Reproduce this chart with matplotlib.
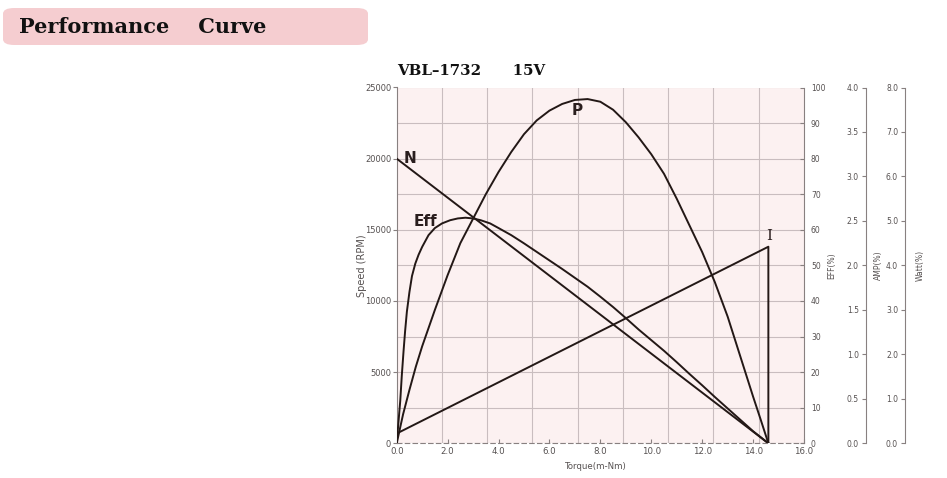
import numpy as np
import matplotlib.pyplot as plt
from matplotlib.patches import FancyBboxPatch

# values
torque_n = [0.0, 14.6]
speed_n = [20000, 0]

torque_eff = [0.0, 0.07, 0.14, 0.2, 0.27, 0.33, 0.4, 0.5, 0.6, 0.73, 0.86, 1.0,
              1.25, 1.5, 1.78, 2.1, 2.4, 2.7, 3.0, 3.3, 3.67, 4.0, 4.5, 5.0,
              5.5, 6.0, 6.5, 7.0, 7.5, 8.0, 8.5, 9.0, 9.5, 10.0, 10.5, 11.0,
              11.5, 12.0, 12.5, 13.0, 13.5, 14.0, 14.6]
eff = [0.0, 6.0, 12.0, 19.0, 26.0, 31.5, 37.0, 42.5, 47.0, 50.5, 53.0, 55.2,
       58.5, 60.5, 61.8, 62.7, 63.2, 63.4, 63.2, 62.7, 61.8, 60.5, 58.5, 56.2,
       53.8, 51.4, 49.0, 46.5, 44.0, 41.2, 38.3, 35.2, 32.0, 29.0, 26.0, 22.8,
       19.5, 16.3, 13.0, 9.8, 6.6, 3.4, 0.0]

torque_p = [0.0, 0.25, 0.5, 0.75, 1.0, 1.5, 2.0, 2.5, 3.0, 3.5, 4.0, 4.5, 5.0,
            5.5, 6.0, 6.5, 7.0, 7.5, 8.0, 8.5, 9.0, 9.5, 10.0, 10.5, 11.0,
            11.5, 12.0, 12.5, 13.0, 13.5, 14.0, 14.3, 14.6]
power = [0.0, 0.65, 1.2, 1.72, 2.18, 3.0, 3.78, 4.5, 5.05, 5.6, 6.1, 6.55, 6.95,
         7.26, 7.48, 7.63, 7.72, 7.74, 7.68, 7.5, 7.22, 6.88, 6.5, 6.06, 5.5,
         4.9, 4.3, 3.62, 2.85, 1.95, 1.05, 0.53, 0.0]

torque_i = [0.0, 14.6, 14.6]
current = [0.11, 2.21, 0.0]

x_ticks = [0, 2, 4, 6, 8, 10, 12, 14, 16]
speed_ticks = [0, 5000, 10000, 15000, 20000, 25000]
eff_ticks = [0, 10, 20, 30, 40, 50, 60, 70, 80, 90, 100]
amp_ticks = [0.0, 0.5, 1.0, 1.5, 2.0, 2.5, 3.0, 3.5, 4.0]
watt_ticks = [0.0, 1.0, 2.0, 3.0, 4.0, 5.0, 6.0, 7.0, 8.0]

line_c = '#231816'
axis_c = '#888080'
tick_c = '#555050'
grid_c = '#c9bdbf'

fig = plt.figure(figsize=(9.47, 4.78), dpi=100)

# header box
box = FancyBboxPatch((3 / 947, 1 - 45 / 478), 365 / 947, 37 / 478,
                     boxstyle='round,pad=0,rounding_size=0.012',
                     transform=fig.transFigure, facecolor='#f5cdd0',
                     edgecolor='none')
fig.patches.append(box)
fig.text(19 / 947, 1 - 27 / 478, 'Performance    Curve', family='DejaVu Serif',
         fontweight='bold', fontsize=15, va='center', ha='left', color='#111111')

ax = fig.add_axes([396.7 / 947, 1 - 443.3 / 478, 407.3 / 947, 355.8 / 478])
ax.set_facecolor('#fcf1f1')
ax.set_xlim(0, 16)
ax.set_ylim(0, 25000)

# grid: 9 columns, rows every 2500
ax.set_xticks(x_ticks)
ax.set_xticklabels(['%.1f' % t for t in x_ticks])
ax.set_xticks(np.linspace(0, 16, 10)[1:-1], minor=True)
ax.set_yticks(speed_ticks)
ax.set_yticks(np.arange(2500, 25000, 5000), minor=True)
ax.grid(False)
ax.grid(which='minor', axis='x', color=grid_c, lw=0.8)
ax.grid(which='both', axis='y', color=grid_c, lw=0.8)
ax.tick_params(axis='x', which='minor', length=0)
ax.tick_params(axis='y', which='minor', length=0)
ax.tick_params(axis='x', which='major', direction='in', length=3, color=axis_c,
               labelsize=6.2, labelcolor=tick_c, pad=3)
ax.tick_params(axis='y', which='major', direction='out', length=3, color=axis_c,
               labelsize=6, labelcolor=tick_c, pad=1)
for s in ['top', 'right']:
    ax.spines[s].set_visible(False)
ax.spines['left'].set_color(axis_c)
ax.spines['bottom'].set_color(axis_c)
ax.spines['bottom'].set_linestyle((0, (4, 3)))
ax.spines['left'].set_linewidth(0.8)
ax.spines['bottom'].set_linewidth(0.8)

ax.text(-0.085, 0.5, 'Speed (RPM)', transform=ax.transAxes, rotation=90,
        ha='center', va='center', fontsize=7, color=tick_c)
ax.text(0.49, -0.065, 'Torque(m-Nm)', transform=ax.transAxes, ha='center',
        va='center', fontsize=6.2, color=tick_c)
ax.text(0.0, 1.045, 'VBL\u20131732      15V', transform=ax.transAxes,
        family='DejaVu Serif', fontweight='bold', fontsize=10.8,
        ha='left', va='center', color='#111111')

ax.plot(torque_n, speed_n, color=line_c, lw=1.4, zorder=3)

# efficiency axis on the plot's right edge
ax_eff = ax.twinx()
ax_eff.set_ylim(0, 100)
ax_eff.set_yticks(eff_ticks)
for s in ['top', 'left', 'bottom']:
    ax_eff.spines[s].set_visible(False)
ax_eff.spines['right'].set_color(axis_c)
ax_eff.spines['right'].set_linewidth(0.8)
ax_eff.tick_params(axis='y', direction='in', length=3, color=axis_c,
                   labelsize=5.5, labelcolor=tick_c, pad=5)
ax_eff.plot(torque_eff, eff, color=line_c, lw=1.4)
ax.text(1.069, 0.5, 'EFF(%)', transform=ax.transAxes, rotation=90,
        ha='center', va='center', fontsize=5.5, color=tick_c)

# current axis
ax_amp = ax.twinx()
ax_amp.set_ylim(0, 4)
ax_amp.set_yticks(amp_ticks)
ax_amp.set_yticklabels(['%.1f' % t for t in amp_ticks])
for s in ['top', 'right', 'bottom']:
    ax_amp.spines[s].set_visible(False)
ax_amp.spines['left'].set_visible(True)
ax_amp.spines['left'].set_position(('axes', 1.152))
ax_amp.spines['left'].set_color(axis_c)
ax_amp.spines['left'].set_linewidth(0.8)
ax_amp.yaxis.tick_left()
ax_amp.tick_params(axis='y', direction='out', length=3, color=axis_c,
                   labelsize=5.5, labelcolor=tick_c, pad=2)
ax_amp.plot(torque_i, current, color=line_c, lw=1.4)
ax.text(1.182, 0.5, 'AMP(%)', transform=ax.transAxes, rotation=90,
        ha='center', va='center', fontsize=5.5, color=tick_c)

# power axis
ax_w = ax.twinx()
ax_w.set_ylim(0, 8)
ax_w.set_yticks(watt_ticks)
ax_w.set_yticklabels(['%.1f' % t for t in watt_ticks])
for s in ['top', 'right', 'bottom']:
    ax_w.spines[s].set_visible(False)
ax_w.spines['left'].set_visible(True)
ax_w.spines['left'].set_position(('axes', 1.248))
ax_w.spines['left'].set_color(axis_c)
ax_w.spines['left'].set_linewidth(0.8)
ax_w.yaxis.tick_left()
ax_w.tick_params(axis='y', direction='out', length=3, color=axis_c,
                 labelsize=5.5, labelcolor=tick_c, pad=2)
ax_w.plot(torque_p, power, color=line_c, lw=1.4)
ax.text(1.285, 0.5, 'Watt(%)', transform=ax.transAxes, rotation=90,
        ha='center', va='center', fontsize=5.5, color=tick_c)

# curve names
ax.text(0.52, 20030, 'N', fontsize=11, fontweight='bold', color='#2a1e1e',
        ha='center', va='center')
ax.text(1.11, 15600, 'Eff', fontsize=11, fontweight='bold', color='#2a1e1e',
        ha='center', va='center')
ax.text(7.08, 23400, 'P', fontsize=11, fontweight='bold', color='#2a1e1e',
        ha='center', va='center')
ax.text(14.62, 14550, 'I', fontsize=11, family='DejaVu Serif', color='#2a1e1e',
        ha='center', va='center')

fig.savefig('out.png', dpi=100)
